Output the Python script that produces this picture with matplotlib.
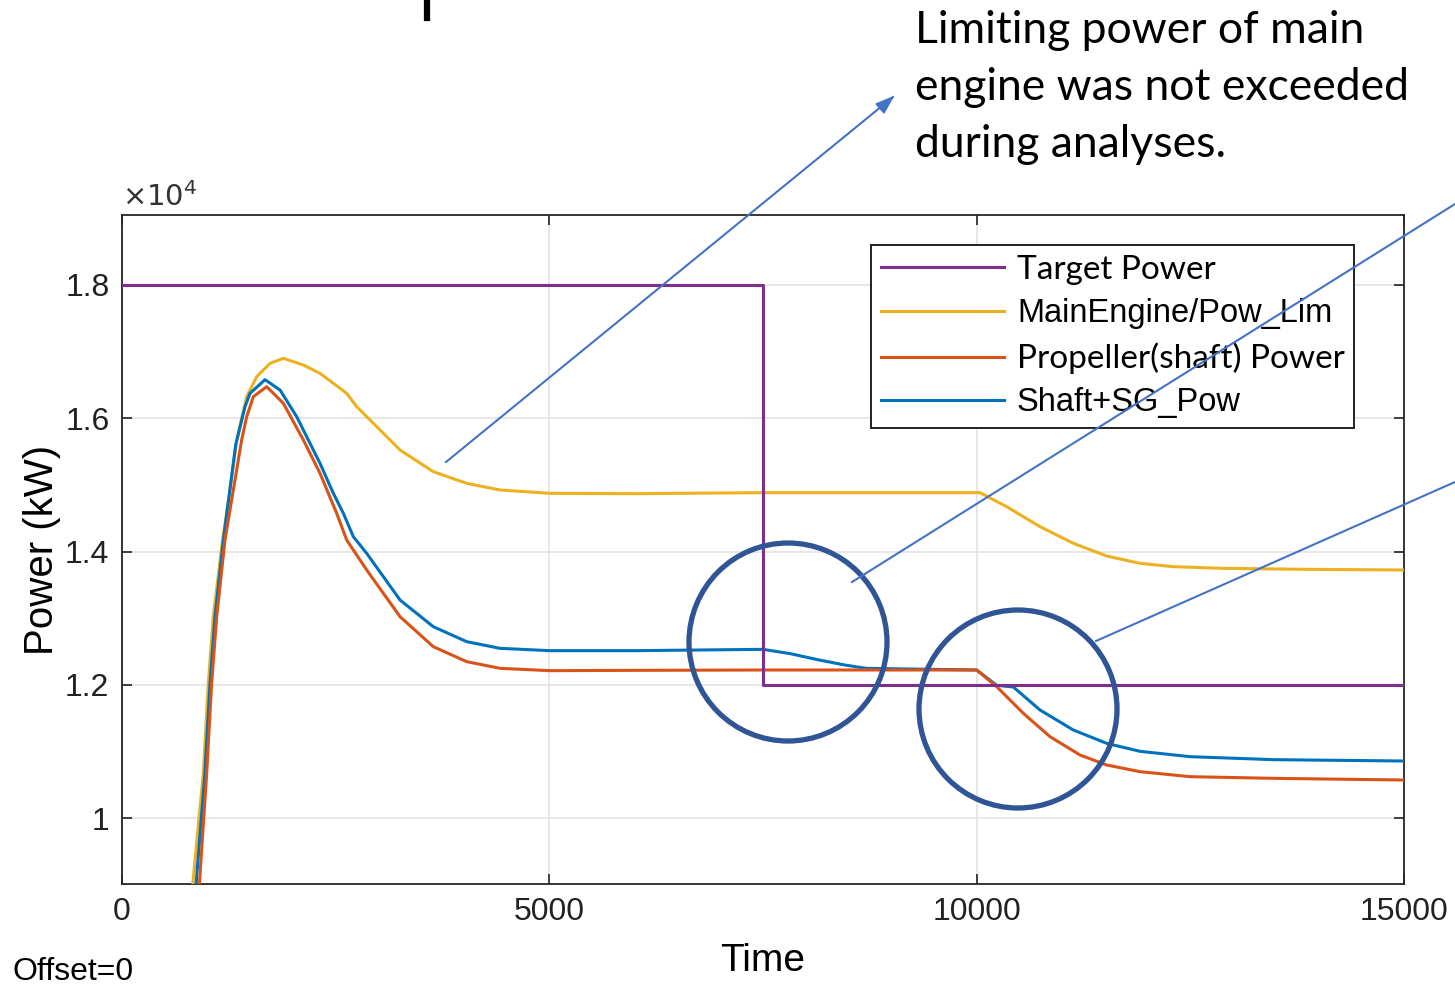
import numpy as np
import matplotlib.pyplot as plt
from matplotlib.patches import Ellipse
from matplotlib.ticker import FuncFormatter

# ========================
# Dados (kW vs tempo)
# ========================
t_target = [0, 7500, 7500, 15000]
p_target = [18000, 18000, 12000, 12000]

t_lim = [827, 951, 1010, 1068, 1176, 1264, 1342, 1459, 1576, 1732, 1888, 2122,
         2317, 2629, 2746, 2863, 3253, 3642, 4033, 4423, 5008, 6000, 7500, 9000,
         10040, 10351, 10741, 11131, 11521, 11911, 12301, 12886, 13861, 15000]
p_lim = [9000, 10675, 12025, 13025, 14175, 14925, 15675, 16325, 16625, 16825,
         16900, 16800, 16675, 16375, 16175, 16025, 15525, 15200, 15025, 14925,
         14875, 14870, 14885, 14885, 14885, 14675, 14375, 14125, 13935, 13825,
         13775, 13750, 13735, 13725]

t_prop = [905, 991, 1049, 1108, 1205, 1400, 1459, 1537, 1693, 1888, 2122, 2317,
          2512, 2629, 2863, 3253, 3642, 4033, 4423, 5008, 6000, 7500, 9000,
          10000, 10234, 10546, 10858, 11209, 11521, 11911, 12496, 13471, 15000]
p_prop = [9000, 10675, 12025, 13025, 14175, 15675, 16025, 16325, 16475, 16225,
          15675, 15175, 14575, 14175, 13725, 13025, 12575, 12350, 12250, 12215,
          12220, 12225, 12225, 12225, 11975, 11575, 11225, 10950, 10800, 10700,
          10625, 10600, 10575]

t_sg = [866, 970, 1030, 1088, 1186, 1330, 1439, 1498, 1673, 1849, 2044, 2317,
        2473, 2590, 2707, 2863, 3253, 3642, 4033, 4423, 5008, 6000, 7500, 7820,
        8138, 8456, 8709, 10000, 10234, 10429, 10741, 11131, 11521, 11911, 12496,
        13471, 15000]
p_sg = [9000, 10675, 12025, 13025, 14175, 15600, 16175, 16375, 16580, 16425,
        16025, 15325, 14875, 14575, 14225, 13975, 13275, 12875, 12650, 12550,
        12515, 12515, 12535, 12470, 12380, 12300, 12250, 12225, 11995, 11970,
        11625, 11325, 11125, 11005, 10925, 10880, 10860]

legend_labels = ["Target Power", "MainEngine/Pow_Lim",
                 "Propeller(shaft) Power", "Shaft+SG_Pow"]
yticks = [1.0, 1.2, 1.4, 1.6, 1.8]
xticks = [0, 5000, 10000, 15000]

# ========================
# Gráfico
# ========================
W, H = 1455, 985
fig = plt.figure(figsize=(W / 100, H / 100), dpi=100)
ax = fig.add_axes([122 / W, 1 - 884 / H, (1404 - 122) / W, (884 - 215) / H])

lw = 2.2
ax.plot(t_target, np.array(p_target) / 1e4, color="#7E2F8E", lw=lw,
        label=legend_labels[0], zorder=5)
ax.plot(t_lim, np.array(p_lim) / 1e4, color="#EDB120", lw=lw,
        label=legend_labels[1], zorder=3)
ax.plot(t_prop, np.array(p_prop) / 1e4, color="#D95319", lw=lw,
        label=legend_labels[2], zorder=4)
ax.plot(t_sg, np.array(p_sg) / 1e4, color="#0072BD", lw=lw,
        label=legend_labels[3], zorder=3.5)

ax.set_xlim(0, 15000)
ax.set_ylim(0.9015, 1.905)
ax.set_xticks(xticks)
ax.set_yticks(yticks)
ax.yaxis.set_major_formatter(FuncFormatter(lambda v, p: "%g" % v))
ax.grid(True, color="#e3e3e3", lw=1.2)
ax.tick_params(direction="in", top=True, right=True, length=7, width=1.2,
               labelsize=23, colors="#222222", pad=9)
for lab in ax.get_xticklabels() + ax.get_yticklabels():
    lab.set_fontfamily("Liberation Sans")
for s in ax.spines.values():
    s.set_color("#262626")
    s.set_linewidth(1.3)

ax.set_xlabel("Time", fontsize=28, family="Liberation Sans", labelpad=12)
ax.set_ylabel("Power (kW)", fontsize=29, family="Liberation Sans", labelpad=3)
fig.text(122 / W, 1 - 197 / H, r"$\times10^4$", fontsize=21, color="#333333",
         family="Liberation Sans", va="center", ha="left")
fig.text(12 / W, 1 - 972 / H, "Offset=0", fontsize=23, family="Liberation Sans",
         va="center", ha="left")

leg = ax.legend(loc="upper left", bbox_to_anchor=(871 / W, 1 - 245 / H),
                bbox_transform=fig.transFigure, fontsize=23, handlelength=3.85,
                handletextpad=0.42, labelspacing=0.42, borderpad=0.3,
                borderaxespad=0, fancybox=False, framealpha=1)
leg.get_frame().set_edgecolor("#222222")
leg.get_frame().set_linewidth(1.4)
for i, txt in enumerate(leg.get_texts()):
    txt.set_fontfamily("Lato" if i in (0, 2) else "Liberation Sans")
    txt.set_fontsize(24 if i in (0, 2) else 23.5)

# ========================
# Anotações (setas e círculos)
# ========================
blue = "#4472C4"
fig.add_artist(plt.Line2D([446 / W, 893 / W], [1 - 462 / H, 1 - 97 / H],
                          color=blue, lw=1.5))
fig.patches.append(plt.Polygon([[893 / W, 1 - 97 / H], [876 / W, 1 - 104 / H],
                                [884 / W, 1 - 113 / H]], closed=True, color=blue,
                               transform=fig.transFigure))
fig.add_artist(plt.Line2D([852 / W, 1455 / W], [1 - 582 / H, 1 - 204 / H],
                          color=blue, lw=1.5))
fig.add_artist(plt.Line2D([1096 / W, 1455 / W], [1 - 641 / H, 1 - 482 / H],
                          color=blue, lw=1.5))

dark = "#2F5597"
fig.patches.append(Ellipse((788 / W, 1 - 642 / H), 198 / W, 198 / H, fill=False,
                           ec=dark, lw=3.8, transform=fig.transFigure))
fig.patches.append(Ellipse((1018 / W, 1 - 709 / H), 198 / W, 198 / H, fill=False,
                           ec=dark, lw=3.8, transform=fig.transFigure))

note = ["Limiting power of main", "engine was not exceeded", "during analyses."]
for i, line in enumerate(note):
    fig.text(915 / W, 1 - (43 + 57 * i) / H, line, fontsize=32, family="Lato",
             va="baseline", ha="left")

# pedaço de texto cortado no topo
fig.add_artist(plt.Line2D([427 / W, 427 / W], [1.0, 1 - 18 / H], color="black", lw=4.5))

fig.savefig("out.png", dpi=100)
